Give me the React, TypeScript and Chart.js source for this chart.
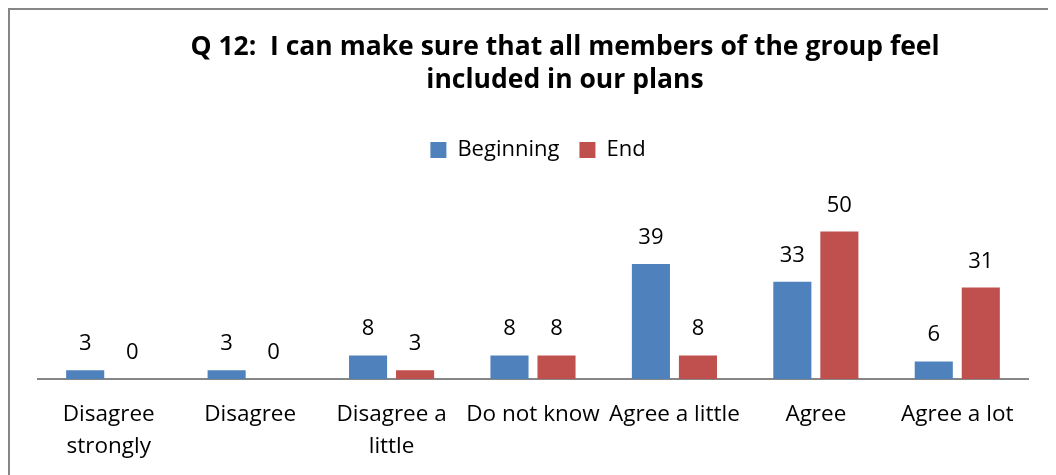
import React, { useEffect, useRef } from "react";
import { Chart, registerables } from "chart.js";

Chart.register(...registerables);

const categories: (string | string[])[] = [
  ["Disagree", "strongly"],
  "Disagree",
  ["Disagree a", "little"],
  "Do not know",
  "Agree a little",
  "Agree",
  "Agree a lot",
];
const beginningValues = [3, 3, 8, 8, 39, 33, 6];
const endValues = [0, 0, 3, 8, 8, 50, 31];
const titleLines = ["Q 12:  I can make sure that all members of the group feel", "included in our plans"];
const FONT = "'Open Sans', 'Liberation Sans', sans-serif";

const dataLabelPlugin = {
  id: "dataLabels",
  afterDatasetsDraw(chart: any) {
    const ctx = chart.ctx;
    ctx.save();
    ctx.font = `22px ${FONT}`;
    ctx.fillStyle = "#000";
    ctx.textAlign = "center";
    ctx.textBaseline = "alphabetic";
    chart.data.datasets.forEach((ds: any, i: number) => {
      const meta = chart.getDatasetMeta(i);
      meta.data.forEach((el: any, j: number) => {
        ctx.fillText(String(ds.data[j]), el.x, el.y - 20);
      });
    });
    ctx.restore();
  },
};

const titlePlugin = {
  id: "offsetTitle",
  afterDraw(chart: any) {
    const ctx = chart.ctx;
    ctx.save();
    ctx.font = `bold 26.5px ${FONT}`;
    ctx.fillStyle = "#000";
    ctx.textAlign = "center";
    ctx.textBaseline = "middle";
    titleLines.forEach((line, i) => {
      ctx.fillText(line, 555, 37 + i * 33.5);
    });
    ctx.restore();
  },
};

const legendSpacingPlugin = {
  id: "legendSpacing",
  beforeLayout(chart: any) {
    const lg = chart.legend;
    if (lg && !lg._patched) {
      const orig = lg.fit.bind(lg);
      lg.fit = function () {
        orig();
        this.height += 31;
      };
      lg._patched = true;
    }
  },
  afterLayout(chart: any) {
    const lg = chart.legend;
    if (lg) {
      lg.left += 5;
      lg.right += 5;
    }
  },
};

export default function App() {
  const ref = useRef<HTMLCanvasElement>(null);
  useEffect(() => {
    if (!ref.current) return;
    const chart = new Chart(ref.current, {
      type: "bar",
      data: {
        labels: categories,
        datasets: [
          { label: "Beginning", data: beginningValues, backgroundColor: "#4F81BD", borderWidth: 0 },
          { label: "End", data: endValues, backgroundColor: "#C0504D", borderWidth: 0 },
        ],
      },
      options: {
        animation: false,
        responsive: true,
        maintainAspectRatio: false,
        layout: { padding: { left: 28, right: 28, top: 109, bottom: -8 } },
        datasets: { bar: { categoryPercentage: 0.665, barPercentage: 0.81 } },
        plugins: {
          title: { display: false },
          legend: {
            display: true,
            position: "top",
            labels: {
              boxWidth: 16,
              boxHeight: 16,
              color: "#000",
              font: { family: FONT, size: 22 },
              padding: 20,
            },
          },
          tooltip: { enabled: false },
        },
        scales: {
          x: {
            grid: { display: false, drawTicks: false },
            border: { display: true, color: "#868686", width: 2 },
            ticks: { color: "#000", font: { family: FONT, size: 22.5, lineHeight: 1.42 }, padding: 20, maxRotation: 0, autoSkip: false },
          },
          y: { display: false, min: 0, max: 60 },
        },
      },
      plugins: [dataLabelPlugin, titlePlugin, legendSpacingPlugin],
    });
    return () => chart.destroy();
  }, []);
  return (
    <div
      style={{
        width: 1048,
        height: 467,
        boxSizing: "border-box",
        borderTop: "2px solid #868686",
        borderLeft: "2px solid #868686",
        position: "relative",
        background: "#fff",
      }}
    >
      <canvas ref={ref} />
    </div>
  );
}
